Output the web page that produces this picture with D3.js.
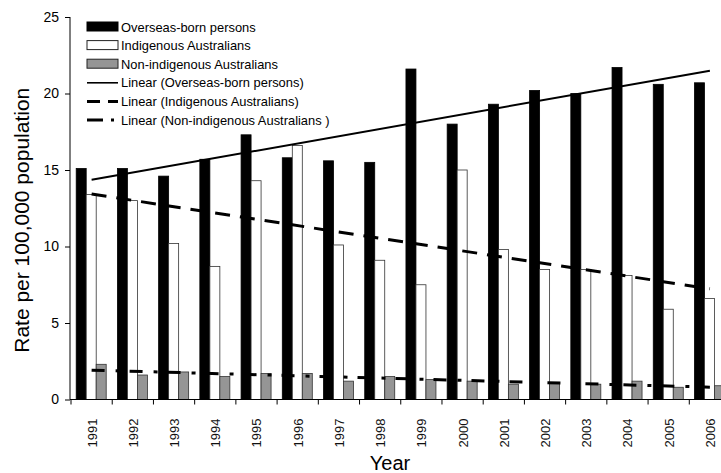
<!DOCTYPE html>
<html>
<head>
<meta charset="utf-8">
<script src="https://cdn.jsdelivr.net/npm/d3@7"></script>
<style>
  body { margin: 0; background: #fff; }
  svg { display: block; font-family: "Liberation Sans", Arial, sans-serif; }
</style>
</head>
<body>
<div id="chart"></div>
<script>
// Data
const years = ["1991","1992","1993","1994","1995","1996","1997","1998",
               "1999","2000","2001","2002","2003","2004","2005","2006"];
const overseas = [15.1,15.1,14.6,15.7,17.3,15.8,15.6,15.5,21.6,18.0,19.3,20.2,20.0,21.7,20.6,20.7];
const indigenous = [13.4,13.0,10.2,8.7,14.3,16.6,10.1,9.1,7.5,15.0,9.8,8.5,8.5,8.1,5.9,6.6];
const nonIndigenous = [2.3,1.6,1.8,1.5,1.7,1.7,1.2,1.5,1.3,1.2,1.0,1.1,1.0,1.2,0.8,0.9];
const yTicks = [0,5,10,15,20,25];

const series = [
  {key: "Overseas-born persons", values: overseas, fill: "#000", stroke: "#000"},
  {key: "Indigenous Australians", values: indigenous, fill: "#fff", stroke: "#333"},
  {key: "Non-indigenous Australians", values: nonIndigenous, fill: "#959595", stroke: "#333"}
];
const trends = [
  {key: "Linear (Overseas-born persons)", values: overseas, dash: null, width: 2},
  {key: "Linear (Indigenous Australians)", values: indigenous, dash: "15,10", width: 3},
  {key: "Linear (Non-indigenous Australians )", values: nonIndigenous, dash: "13,11,4,10", width: 3}
];

const W = 721, H = 473;
// plot runs past the right edge of the picture (it is cropped there)
const plot = {left: 70, top: 17, bottom: 399.5, right: 730.5};

const svg = d3.select("#chart").append("svg")
  .attr("width", W).attr("height", H);

const x = d3.scaleBand().domain(years).range([plot.left + 1, plot.right]);
const xs = d3.scaleBand().domain(series.map(s => s.key)).range([5.2, 35.2]);
const y = d3.scaleLinear().domain([0, 25]).range([plot.bottom, plot.top]);

// Bars
series.forEach(s => {
  svg.append("g").selectAll("rect")
    .data(s.values)
    .enter().append("rect")
      .attr("x", (d, i) => x(years[i]) + xs(s.key))
      .attr("y", d => y(d))
      .attr("width", xs.bandwidth())
      .attr("height", d => y(0) - y(d))
      .attr("fill", s.fill)
      .attr("stroke", s.stroke)
      .attr("stroke-width", 0.8);
});

// Linear trendlines (least squares over year index)
function fit(vals) {
  const n = vals.length, mx = (n - 1) / 2, my = d3.mean(vals);
  let sxy = 0, sxx = 0;
  vals.forEach((v, i) => { sxy += (i - mx) * (v - my); sxx += (i - mx) * (i - mx); });
  const b = sxy / sxx;
  return i => my + b * (i - mx);
}
trends.forEach(t => {
  const f = fit(t.values);
  const ends = [0, years.length - 1];
  svg.append("path")
    .datum(ends)
    .attr("fill", "none")
    .attr("stroke", "#000")
    .attr("stroke-width", t.width)
    .attr("stroke-dasharray", t.dash)
    .attr("d", d3.line()
      .x(i => x(years[i]) + x.bandwidth() / 2)
      .y(i => y(f(i))));
});

// Y axis
const yAxis = svg.append("g")
  .attr("transform", `translate(${plot.left},0)`)
  .call(d3.axisLeft(y).tickValues(yTicks).tickSize(5).tickPadding(6).tickFormat(d3.format("d")));
yAxis.select(".domain").attr("stroke", "#000").attr("d", `M0,${plot.top}V${plot.bottom}`);
yAxis.selectAll("line").attr("stroke", "#000");
yAxis.selectAll("text").attr("font-size", 14).attr("font-family", "Liberation Sans, Arial, sans-serif").attr("fill", "#000");

// X axis: ticks at category boundaries
const xAxisG = svg.append("g").attr("transform", `translate(0,${plot.bottom})`);
xAxisG.append("line").attr("x1", plot.left).attr("x2", plot.right + 5).attr("stroke", "#000");
const bounds = years.map(d => x(d)).concat([x(years[years.length - 1]) + x.bandwidth()]);
xAxisG.selectAll("line.tick")
  .data(bounds)
  .enter().append("line")
    .attr("class", "tick")
    .attr("x1", d => d).attr("x2", d => d)
    .attr("y1", 0).attr("y2", 5)
    .attr("stroke", "#000");
xAxisG.selectAll("text")
  .data(years)
  .enter().append("text")
    .attr("transform", d => `translate(${x(d) + x.bandwidth() / 2 + 5},19)rotate(-90)`)
    .attr("text-anchor", "end")
    .attr("font-size", 13)
    .attr("fill", "#111")
    .text(d => d);

// Axis titles
svg.append("text")
  .attr("transform", `translate(29,${(plot.top + plot.bottom) / 2 + 12})rotate(-90)`)
  .attr("text-anchor", "middle")
  .attr("font-size", 21)
  .text("Rate per 100,000 population");
svg.append("text")
  .attr("x", 390).attr("y", 470)
  .attr("text-anchor", "middle")
  .attr("font-size", 20)
  .text("Year");

// Legend
const legend = svg.append("g").attr("transform", "translate(87,27)");
const rowH = 18.6;
series.forEach((s, i) => {
  const g = legend.append("g").attr("transform", `translate(0,${i * rowH})`);
  g.append("rect").attr("x", 0).attr("y", -5).attr("width", 31).attr("height", 9)
    .attr("fill", s.fill).attr("stroke", s.fill === "#000" ? "#000" : "#222").attr("stroke-width", 1);
  g.append("text").attr("x", 34).attr("y", 4.5).attr("font-size", 12.9).text(s.key);
});
trends.forEach((t, i) => {
  const g = legend.append("g").attr("transform", `translate(0,${(i + 3) * rowH})`);
  g.append("line").attr("x1", 0).attr("x2", 31).attr("y1", 0).attr("y2", 0)
    .attr("stroke", "#000").attr("stroke-width", t.dash ? 3 : 1.6)
    .attr("stroke-dasharray", t.dash ? (i === 1 ? "13,8,10,0" : "16,8,3,4") : null);
  g.append("text").attr("x", 34).attr("y", 4.5).attr("font-size", 12.9).text(t.key);
});
</script>
</body>
</html>
